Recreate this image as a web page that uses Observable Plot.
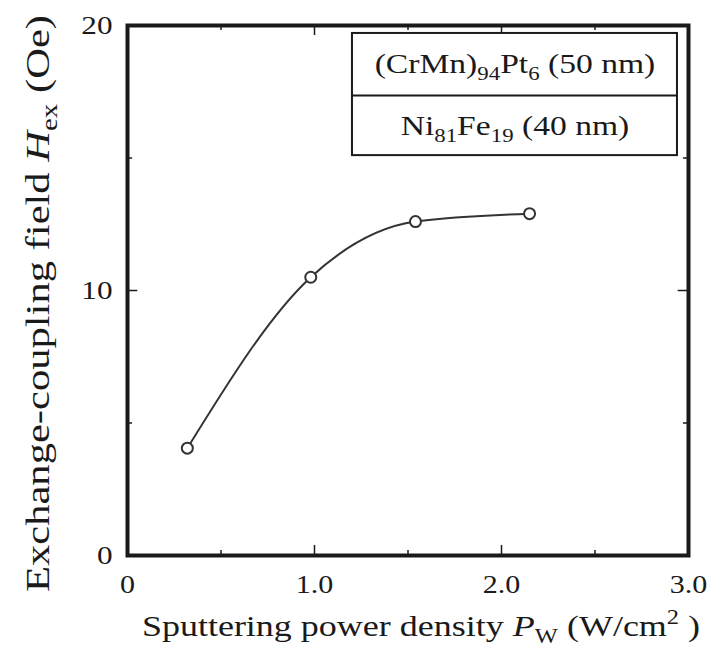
<!DOCTYPE html>
<html><head><meta charset="utf-8">
<script src="https://cdn.jsdelivr.net/npm/d3@7"></script>
<script src="https://cdn.jsdelivr.net/npm/@observablehq/plot@0.6"></script>
<style>body{margin:0;background:#fff} #chart{width:710px;height:655px}</style>
</head><body><div id="chart"></div>
<script>
// ---- data ----
const powerDensity = [0.32, 0.98, 1.54, 2.15];      // W/cm^2
const exchangeField = [4.05, 10.5, 12.6, 12.9];     // Oe
const xTickValues = [0, 1, 2, 3];
const xTickLabels = ["0", "1.0", "2.0", "3.0"];
const yTickValues = [0, 10, 20];
const yTickLabels = ["0", "10", "20"];
const xMajorInner = [1, 2];
const xMinorInner = [0.5, 1.5, 2.5];
const yMajorInner = [10];
const yMinorInner = [5, 15];
const legendLines = ["(CrMn)_{94}Pt_{6} (50 nm)", "Ni_{81}Fe_{19} (40 nm)"];
const xLabel = "Sputtering power density *P*_{W} (W/cm^{2} )";
const yLabel = "Exchange-coupling field *H*_{ex} (Oe)";

const data = powerDensity.map((x, i) => ({x, y: exchangeField[i]}));
const serif = "'Liberation Serif', 'Times New Roman', 'DejaVu Serif', serif";
const ink = "#1a1a1a";
const stretch = 1.2;   // the reference glyphs are wider than Liberation Serif
const yStretch = 1.29; // the y-axis title is set a little wider still

// tick lengths expressed in data units (converted by the scales)
const xLong = 0.055, xShort = 0.027, yLong = 0.38, yShort = 0.19;
// legend box in data coordinates
const box = {x1: 1.203, x2: 2.941, y1: 15.09, y2: 19.70, ymid: 17.36};

const plot = Plot.plot({
  width: 710, height: 655,
  marginLeft: 127, marginRight: 22, marginTop: 25, marginBottom: 100,
  style: {fontFamily: serif, background: "#fff", color: ink},
  x: {domain: [0, 3]},
  y: {domain: [0, 20]},
  marks: [
    // inward ticks
    Plot.ruleX(xMajorInner, {y1: 0, y2: yLong, stroke: ink, strokeWidth: 1.5}),
    Plot.ruleX(xMajorInner, {y1: 20, y2: 20 - yLong, stroke: ink, strokeWidth: 1.5}),
    Plot.ruleX(xMinorInner, {y1: 0, y2: yShort, stroke: ink, strokeWidth: 1.5}),
    Plot.ruleX(xMinorInner, {y1: 20, y2: 20 - yShort, stroke: ink, strokeWidth: 1.5}),
    Plot.ruleY(yMajorInner, {x1: 0, x2: xLong, stroke: ink, strokeWidth: 1.5}),
    Plot.ruleY(yMajorInner, {x1: 3, x2: 3 - xLong, stroke: ink, strokeWidth: 1.5}),
    Plot.ruleY(yMinorInner, {x1: 0, x2: xShort, stroke: ink, strokeWidth: 1.5}),
    Plot.ruleY(yMinorInner, {x1: 3, x2: 3 - xShort, stroke: ink, strokeWidth: 1.5}),
    // legend box
    Plot.rect([0], {x1: box.x1, x2: box.x2, y1: box.y1, y2: box.y2, fill: "#fff", stroke: ink, strokeWidth: 2}),
    Plot.ruleY([box.ymid], {x1: box.x1, x2: box.x2, stroke: ink, strokeWidth: 2}),
    Plot.text(legendLines, {x: (box.x1 + box.x2) / 2, y: [(box.y2 + box.ymid) / 2, (box.ymid + box.y1) / 2], text: d => d, fontSize: 28, fill: ink}),
    // data
    Plot.line(data, {x: "x", y: "y", curve: "monotone-x", stroke: "#333", strokeWidth: 2}),
    Plot.dot(data, {x: "x", y: "y", r: 5.5, fill: "#fff", stroke: "#333", strokeWidth: 2}),
    // frame
    Plot.frame({stroke: ink, strokeWidth: 4}),
    // axes
    Plot.axisX(xTickValues, {tickSize: 0, tickPadding: 20, tickFormat: d => xTickLabels[xTickValues.indexOf(d)], fontSize: 25, label: null, fill: ink}),
    Plot.axisY(yTickValues, {tickSize: 0, tickPadding: 15, tickFormat: d => yTickLabels[yTickValues.indexOf(d)], fontSize: 26, label: null, fill: ink}),
    Plot.text([xLabel], {frameAnchor: "bottom", textAnchor: "middle", dy: 80, dx: 13, fontSize: 30, fill: ink}),
    Plot.text([yLabel], {frameAnchor: "left", textAnchor: "middle", lineAnchor: "middle", rotate: -90, dx: -89, dy: 13, fontSize: 33, fill: ink})
  ]
});

document.getElementById("chart").appendChild(plot);

// rich text: *italic*, _{sub}, ^{sup}
function richify(el) {
  const s = el.textContent;
  if (!/(\*|_\{|\^\{)/.test(s)) return;
  const fs = parseFloat(getComputedStyle(el).fontSize) || 26;
  el.textContent = "";
  const parts = s.split(/(\*[^*]+\*|_\{[^}]+\}|\^\{[^}]+\})/).filter(p => p !== "");
  let shift = 0;
  for (const p of parts) {
    const t = document.createElementNS("http://www.w3.org/2000/svg", "tspan");
    let target = 0;
    if (p.startsWith("*")) {
      t.textContent = p.slice(1, -1);
      t.setAttribute("font-style", "italic");
    } else if (p.startsWith("_{")) {
      t.textContent = p.slice(2, -1);
      t.setAttribute("font-size", fs * 0.68);
      target = fs * 0.25;
    } else if (p.startsWith("^{")) {
      t.textContent = p.slice(2, -1);
      t.setAttribute("font-size", fs * 0.68);
      target = -fs * 0.38;
    } else {
      t.textContent = p;
    }
    const d = target - shift;
    if (d !== 0) t.setAttribute("dy", d);
    shift = target;
    el.appendChild(t);
  }
}
function widen(el) {
  const isYTitle = el.textContent.startsWith("Exchange");
  const len = el.getComputedTextLength();
  if (len > 0) {
    el.setAttribute("textLength", len * (isYTitle ? yStretch : stretch));
    el.setAttribute("lengthAdjust", "spacingAndGlyphs");
  }
}
plot.querySelectorAll("text").forEach(el => { richify(el); widen(el); });
</script>
</body></html>
